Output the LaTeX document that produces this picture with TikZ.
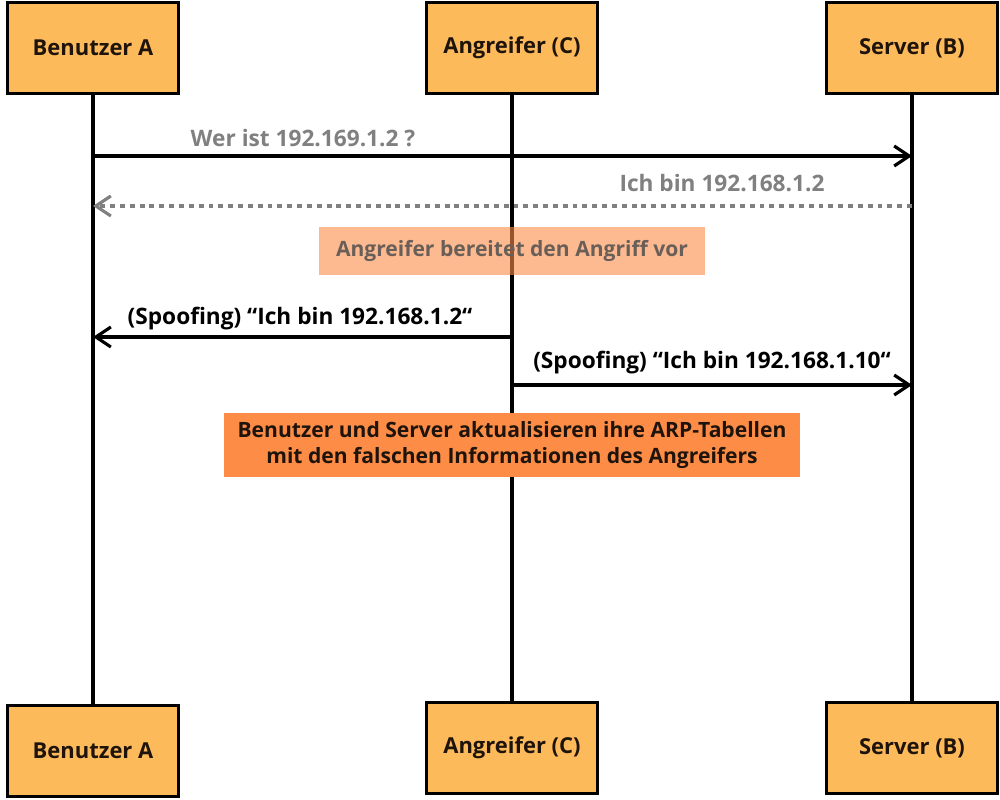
\documentclass[tikz,border=0pt]{standalone}
\usepackage{fontspec}
\setmainfont{Open Sans}
\usetikzlibrary{arrows.meta, positioning}
\definecolor{actorfill}{RGB}{253,186,91}
\definecolor{notefill}{RGB}{252,140,70}
\definecolor{msggray}{RGB}{128,128,128}
\definecolor{notetext}{RGB}{105,95,88}
\definecolor{inktext}{RGB}{30,20,12}

\tikzset{
  actor/.style={draw=black, line width=1.8pt, fill=actorfill, minimum width=3.42cm,
    minimum height=1.82cm, inner sep=0pt, font=\bfseries\fontsize{12.5}{14}\selectfont, text=inktext},
  lifeline/.style={line width=1.8pt},
  msg/.style={line width=1.8pt, -{Straight Barb[length=3mm,width=4mm,line width=1.8pt]}},
  msglabel/.style={font=\bfseries\fontsize{12.9}{15}\selectfont, inner sep=1pt}
}

\begin{document}
\begin{tikzpicture}[x=0.02cm, y=-0.02cm]

  \useasboundingbox (0,0) rectangle (1000,800);

  % Actors (top)
  \node[actor] (userA)   at (93,48)  {Benutzer A};
  \node[actor] (attackC) at (512,48) {Angreifer (C)};
  \node[actor] (serverB) at (912,48) {Server (B)};

  % Actors (bottom)
  \node[actor] (userAb)   at (93,751)  {Benutzer A};
  \node[actor] (attackCb) at (512,748) {Angreifer (C)};
  \node[actor] (serverBb) at (912,748) {Server (B)};

  % Lifelines
  \draw[lifeline] (userA) -- (userAb);
  \draw[lifeline] (attackC) -- (attackCb);
  \draw[lifeline] (serverB) -- (serverBb);

  % Message anchor points on the lifelines
  \coordinate (a1) at (93,156);  \coordinate (b1) at (912,156);
  \coordinate (a2) at (93,206);  \coordinate (b2) at (912,206);
  \coordinate (a3) at (93,337);  \coordinate (c3) at (512,337);
  \coordinate (c4) at (512,385); \coordinate (b4) at (912,385);

  % ARP request
  \draw[msg] (a1) -- (b1);
  \node[msglabel, text=msggray] (lblask) at (303,138) {Wer ist 192.169.1.2 ?};

  % ARP reply from the server
  \draw[msg, draw=msggray, dash pattern=on 2.8pt off 2.8pt] (b2) -- (a2);
  \node[msglabel, text=msggray] (lblreply) at (722,183) {Ich bin 192.168.1.2};

  % Preparation note
  \node[fill=notefill, fill opacity=0.6, text opacity=1, text=notetext, minimum width=7.72cm,
    minimum height=0.98cm, inner sep=0pt, font=\bfseries\fontsize{12}{14}\selectfont]
    (prep) at (512,251) {Angreifer bereitet den Angriff vor};

  % Spoofed replies
  \draw[msg] (c3) -- (a3);
  \node[msglabel, text=black] (lblspoofA) at (300,319) {(Spoofing) “Ich bin 192.168.1.2“};
  \draw[msg] (c4) -- (b4);
  \node[msglabel, text=black] (lblspoofB) at (712,363) {(Spoofing) “Ich bin 192.168.1.10“};

  % Result note
  \node[fill=notefill, text=inktext, minimum width=11.52cm, minimum height=1.28cm, inner sep=0pt,
    align=center, font=\bfseries\fontsize{12}{15}\selectfont]
    (result) at (512,445) {Benutzer und Server aktualisieren ihre ARP-Tabellen\\
      mit den falschen Informationen des Angreifers};

\end{tikzpicture}
\end{document}
